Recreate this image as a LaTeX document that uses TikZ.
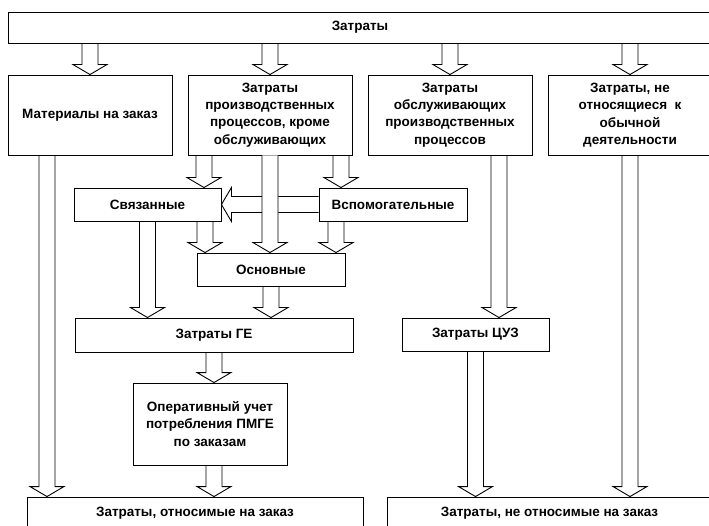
\documentclass[tikz,border=0pt]{standalone}
\usepackage{fontspec}
\setmainfont{Liberation Sans}
\usetikzlibrary{calc}
\begin{document}
\begin{tikzpicture}[x=1pt,y=-1pt,
  box/.style={draw,line width=0.9pt,align=center,inner sep=2pt,
    font=\bfseries\fontsize{13.5}{17.3}\selectfont},
  hollowdown/.style={to path={let \p1=(\tikztostart), \p2=(\tikztotarget) in
    (\x1-8pt,\y1) -- (\x1-8pt,\y2+10pt) -- (\x1-17pt,\y2+10pt) -- (\x1,\y2)
    -- (\x1+17pt,\y2+10pt) -- (\x1+8pt,\y2+10pt) -- (\x1+8pt,\y1)}},
  hollowleft/.style={to path={let \p1=(\tikztostart), \p2=(\tikztotarget) in
    (\x1,\y1+8pt) -- (\x2+10pt,\y1+8pt) -- (\x2+10pt,\y1+17pt) -- (\x2,\y1)
    -- (\x2+10pt,\y1-17pt) -- (\x2+10pt,\y1-8pt) -- (\x1,\y1-8pt)}}]
\useasboundingbox (0,0) rectangle (709,526);

    \path (360,27.5) node (costs) [box,minimum width=704,minimum height=31] {Затраты};
    \path (90,115) node (materials) [box,minimum width=164,minimum height=80] {Материалы на заказ};
    \path (270,115) node (production) [box,minimum width=164,minimum height=80] {Затраты\\производственных\\процессов, кроме\\обслуживающих};
    \path (450,115) node (service) [box,minimum width=164,minimum height=80] {Затраты\\обслуживающих\\производственных\\процессов};
    \path (630,115) node (nonordinary) [box,minimum width=164,minimum height=80] {Затраты, не\\относящиеся~~к\\обычной\\деятельности};
    \path (147.5,204.5) node (linked) [box,minimum width=147,minimum height=33] {Связанные};
    \path (393,204.5) node (auxiliary) [box,minimum width=148,minimum height=33] {Вспомогательные};
    \path (271,269.5) node (basic) [box,minimum width=148,minimum height=33] {Основные};
    \path (214,335) node (costsGE) [box,minimum width=278,minimum height=34] {Затраты ГЕ};
    \path (475.5,334.5) node (costsCUZ) [box,minimum width=147,minimum height=33] {Затраты ЦУЗ};
    \path (210,424) node (operative) [box,minimum width=154,minimum height=82] {Оперативный учет\\потребления ПМГЕ\\по заказам};
    \path (195,513) node (toorder) [box,minimum width=336,minimum height=32] {Затраты, относимые на заказ};
    \path (549.5,513) node (nottoorder) [box,minimum width=325,minimum height=32] {Затраты, не относимые на заказ};

  \begin{scope}[line width=0.9pt]
    \draw [hollowdown](costs.south -| materials.north) to (materials.north);
    \draw [hollowdown](costs.south -| production.north) to (production.north);
    \draw [hollowdown](costs.south -| service.north) to (service.north);
    \draw [hollowdown](costs.south -| nonordinary.north) to (nonordinary.north);
    \draw [hollowdown]([xshift=-43pt]materials.south) to (toorder.north);
    \draw [hollowdown]([xshift=-66pt]production.south) to (linked.north);
    \draw [hollowdown]([xshift=71pt]production.south) to (auxiliary.north);
    \filldraw [hollowleft,fill=white](auxiliary.west) to (linked.east);
    \filldraw [hollowdown,fill=white](production.south) to (basic.north);
    \draw [hollowdown](linked.south) to (costsGE.north);
    \draw [hollowdown]([xshift=57.5pt]linked.south) to (basic.north);
    \draw [hollowdown]([xshift=-57pt]auxiliary.south) to (basic.north);
    \draw [hollowdown](basic.south) to (costsGE.north);
    \draw [hollowdown](costsGE.south) to (operative.north);
    \draw [hollowdown](operative.south -| costsGE.south) to (toorder.north);
    \draw [hollowdown]([xshift=49pt]service.south) to (costsCUZ.north);
    \draw [hollowdown](costsCUZ.south) to (nottoorder.north);
    \draw [hollowdown](nonordinary.south) to (nottoorder.north);
  \end{scope}
\end{tikzpicture}
\end{document}
